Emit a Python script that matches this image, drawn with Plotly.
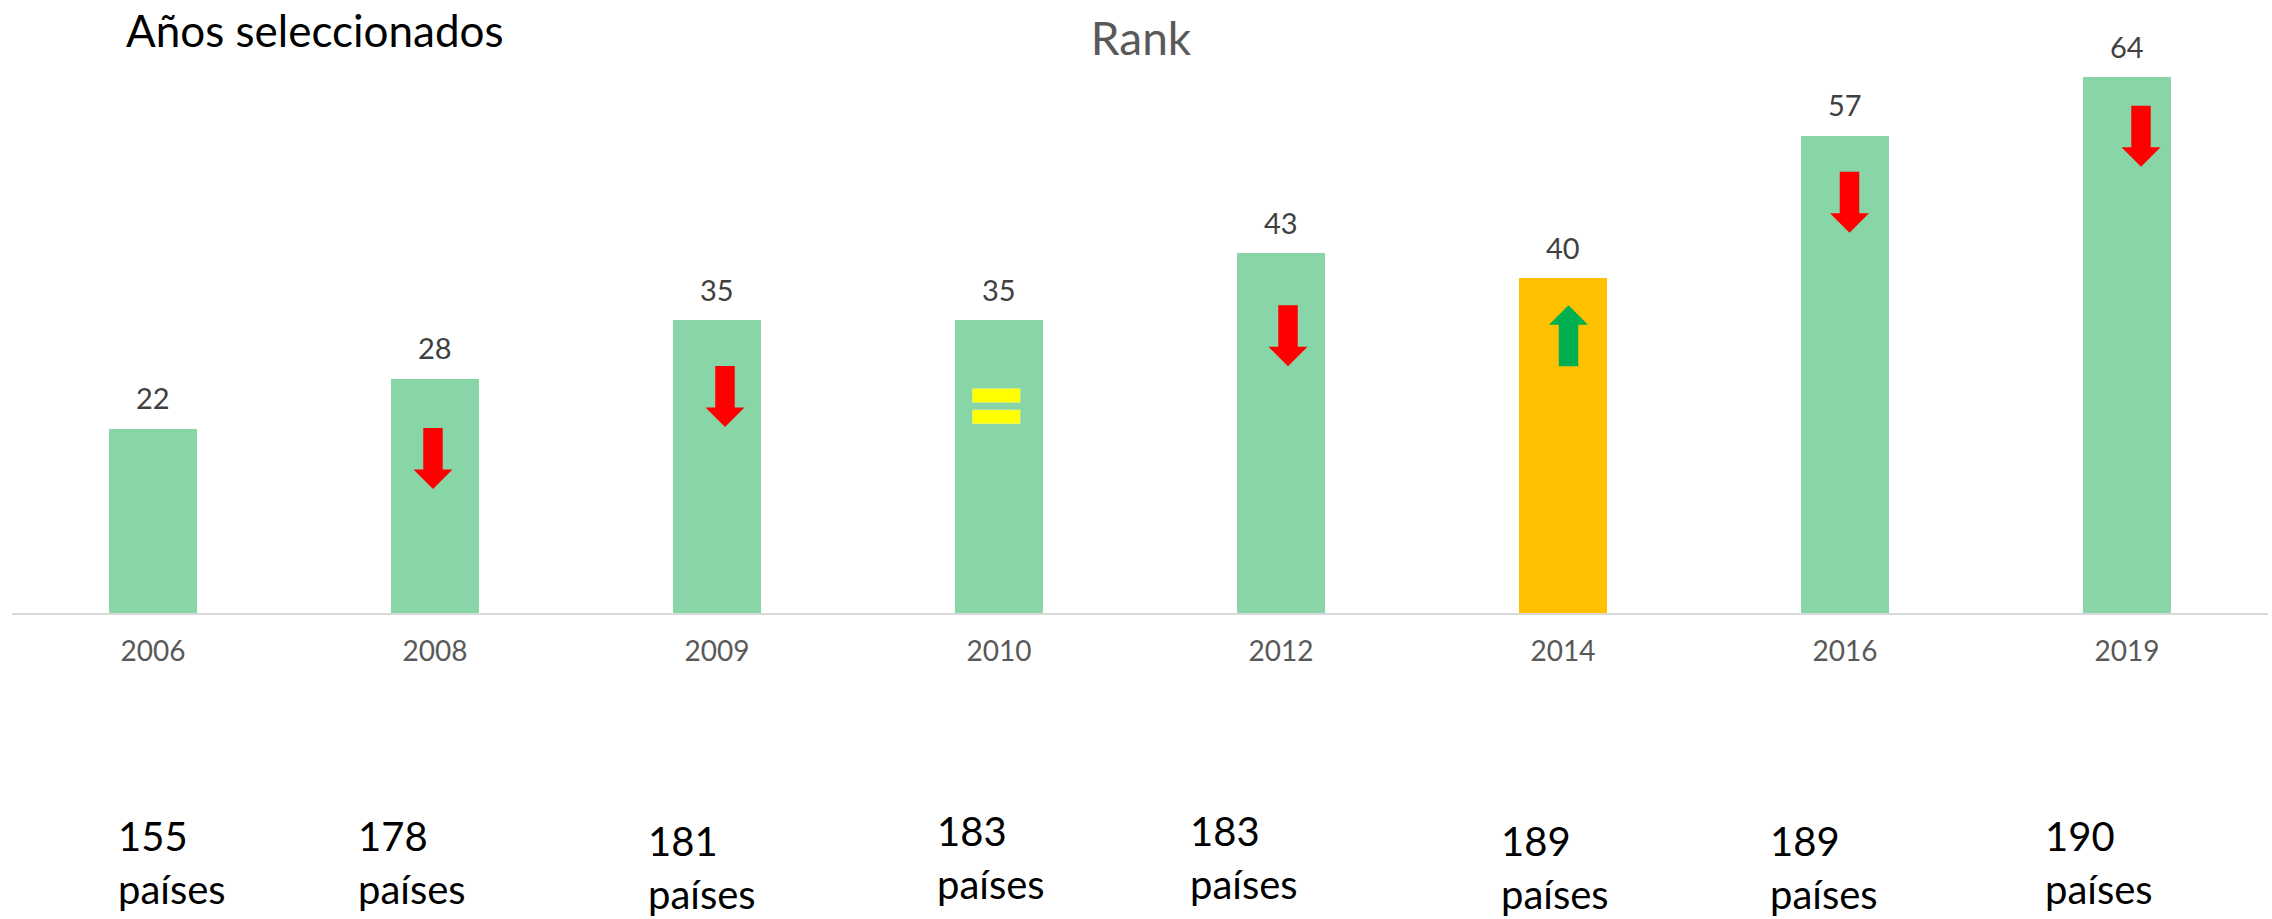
import plotly.graph_objects as go

# ---------------- data ----------------
years = ["2006", "2008", "2009", "2010", "2012", "2014", "2016", "2019"]
rank = [22, 28, 35, 35, 43, 40, 57, 64]
paises = [155, 178, 181, 183, 183, 189, 189, 190]
highlight_year = "2014"
# movement vs previous year: "down" = worse rank, "up" = better, "eq" = unchanged
movement = [None, "down", "down", "eq", "down", "up", "down", "down"]

# ---------------- styles / layout constants ----------------
W, H = 2272, 919
ML, MR, MT, MB = 12, 4, 27, 306
YMAX = 70
PLOT_W = W - ML - MR
PLOT_H = H - MT - MB
N = len(years)
PXU = PLOT_H / YMAX  # pixels per rank unit
BASE = MT + PLOT_H

GREEN = "#88D5A8"
GOLD = "#FFC000"
RED = "#FF0000"
UPGREEN = "#00B050"
YELLOW = "#FFFF00"
FONT = "Lato"

bar_colors = [GOLD if y == highlight_year else GREEN for y in years]


def cat_paper(i, off_px=0.0):
    return (i + 0.5) / N + off_px / PLOT_W


def px_paper_x(px):
    return (px - ML) / PLOT_W


def px_paper_y(py):
    return (BASE - py) / PLOT_H


fig = go.Figure()
fig.add_trace(go.Bar(
    x=years, y=rank, marker=dict(color=bar_colors, line=dict(width=0)),
    width=0.313, hoverinfo="x+y", showlegend=False,
))

annotations = []
# value labels above bars
for i, v in enumerate(rank):
    annotations.append(dict(x=i, y=v, xref="x", yref="y", text=str(v), showarrow=False,
                            yanchor="middle", yshift=31,
                            font=dict(family=FONT, size=29, color="#404040")))

# movement indicators (decorative block arrows / equals sign)
# per-category: x offset (px) from bar centre and top position (rank units)
ind_off = [0, -2, 8, -2.7, 7, 5.5, 4.5, 14]
ind_top = [0, 22.1, 29.5, 26.8, 36.75, 36.75, 52.7, 60.6]
SW, HW = 19.5 / 2, 39 / 2         # half widths (px)
SHAFT, HEAD = 41.5 / PXU, 19.5 / PXU
shapes = []
for i, mv in enumerate(movement):
    if mv is None:
        continue
    c = cat_paper(i, ind_off[i])
    sw, hw = SW / PLOT_W, HW / PLOT_W
    t = ind_top[i]
    if mv == "down":
        pts = [(c - sw, t), (c + sw, t), (c + sw, t - SHAFT), (c + hw, t - SHAFT),
               (c, t - SHAFT - HEAD), (c - hw, t - SHAFT), (c - sw, t - SHAFT)]
        col = RED
    elif mv == "up":
        pts = [(c, t), (c + hw, t - HEAD), (c + sw, t - HEAD), (c + sw, t - HEAD - SHAFT),
               (c - sw, t - HEAD - SHAFT), (c - sw, t - HEAD), (c - hw, t - HEAD)]
        col = UPGREEN
    else:
        ew = 23.8 / PLOT_W
        bh, gap = 13.7 / PXU, 7.6 / PXU
        for k in range(2):
            y1 = t - k * (bh + gap)
            shapes.append(dict(type="rect", xref="paper", yref="y", x0=c - ew, x1=c + ew,
                               y0=y1 - bh, y1=y1, fillcolor=YELLOW,
                               line=dict(width=0.5, color="#F5F58A"), layer="above"))
        continue
    path = "M " + " L ".join(f"{x},{y}" for x, y in pts) + " Z"
    shapes.append(dict(type="path", xref="paper", yref="y", path=path,
                       fillcolor=col, line=dict(width=0), layer="above"))

# subtitle (top-left)
annotations.append(dict(x=px_paper_x(124), y=px_paper_y(30), xref="paper", yref="paper",
                        text="Años seleccionados", showarrow=False, xanchor="left",
                        yanchor="middle", font=dict(family=FONT, size=44, color="#000000")))

# country counts below the axis
cnt_left = [116, 356, 646, 935, 1188, 1499, 1768, 2043]
cnt_top = [823, 823, 828, 818, 818, 828, 828, 823]
for n, lx, ty in zip(paises, cnt_left, cnt_top):
    annotations.append(dict(x=px_paper_x(lx), y=px_paper_y(ty + 13), xref="paper", yref="paper",
                            text=str(n), showarrow=False, xanchor="left", yanchor="middle",
                            font=dict(family=FONT, size=40, color="#000000")))
    annotations.append(dict(x=px_paper_x(lx), y=px_paper_y(ty + 13 + 52.7), xref="paper",
                            yref="paper", text="países", showarrow=False, xanchor="left",
                            yanchor="middle", font=dict(family=FONT, size=40, color="#000000")))

fig.update_layout(
    width=W, height=H,
    margin=dict(l=ML, r=MR, t=MT, b=MB, pad=0),
    paper_bgcolor="white", plot_bgcolor="white",
    title=dict(text="Rank", x=1141 / W, xanchor="center", xref="container",
               y=1 - 39 / H, yanchor="middle",
               font=dict(family=FONT, size=46, color="#595959")),
    xaxis=dict(type="category", range=[-0.5, N - 0.5], showgrid=False, zeroline=False,
               showline=True, linecolor="#D9D9D9", linewidth=1.5, ticks="",
               tickfont=dict(family=FONT, size=28, color="#595959"), ticklabelstandoff=13),
    yaxis=dict(range=[0, YMAX], showgrid=False, zeroline=False, showline=False,
               showticklabels=False, ticks=""),
    annotations=annotations, shapes=shapes, bargap=0,
)

fig.write_html("out.html", config={"displayModeBar": False},
               post_script="document.body.style.margin='0';")
